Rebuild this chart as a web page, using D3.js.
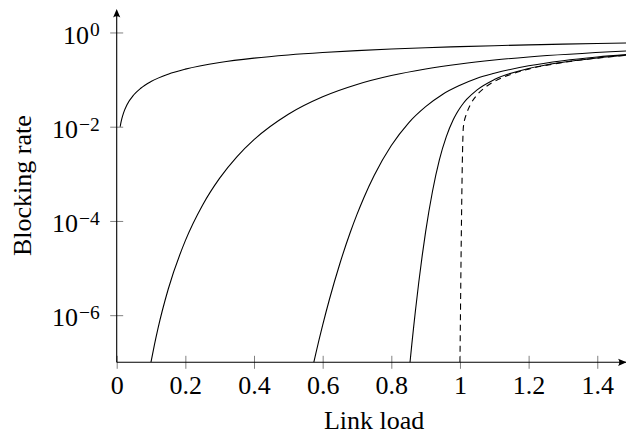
<!DOCTYPE html>
<html><head><meta charset="utf-8">
<script src="https://cdn.jsdelivr.net/npm/d3@7"></script>
<style>body{margin:0;background:#fff}svg{display:block}</style>
</head><body>
<svg id="chart" width="626" height="436"></svg>
<script>
// ---- data ----
const xTicks = [0, 0.2, 0.4, 0.6, 0.8, 1, 1.2, 1.4];
const xTickLabels = ["0", "0.2", "0.4", "0.6", "0.8", "1", "1.2", "1.4"];
const yTicks = [1, 1e-2, 1e-4, 1e-6];
const yTickExponents = ["0", "\u22122", "\u22124", "\u22126"];
const xLabel = "Link load";
const yLabel = "Blocking rate";

const loadC1 = [0.01,0.011,0.012,0.015,0.02,0.03,0.05,0.07,0.1,0.15,0.2,0.3,0.4,0.5,0.6,0.7,0.8,0.9,1.0,1.1,1.2,1.3,1.4,1.5];
const blockC1 = [0.0099,0.01088,0.01186,0.01478,0.01961,0.02913,0.04762,0.06542,0.09091,0.1304,0.1667,0.2308,0.2857,0.3333,0.375,0.4118,0.4444,0.4737,0.5,0.5238,0.5455,0.5652,0.5833,0.6];

const loadC10 = [0.1,0.11,0.12,0.15,0.2,0.25,0.3,0.35,0.4,0.5,0.6,0.7,0.8,0.9,1.0,1.1,1.2,1.5];
const blockC10 = [1.014e-7,2.379e-7,5.139e-7,3.546e-6,3.819e-5,2.157e-4,8.104e-4,2.298e-3,5.308e-3,0.01838,0.04314,0.07874,0.1217,0.1680,0.2146,0.2596,0.3019,0.4103];

const loadC100 = [0.574,0.58,0.6,0.62,0.65,0.68,0.7,0.72,0.75,0.8,0.85,0.9,0.95,1.0,1.05,1.1,1.2,1.3,1.4,1.5];
const blockC100 = [9.84e-8,1.528e-7,6.12e-7,2.203e-6,1.236e-5,5.61e-5,1.377e-4,3.119e-4,9.20e-4,3.98e-3,0.01197,0.0266,0.049,0.0757,0.1072,0.1361,0.1963,0.2518,0.3014,0.3454];

const loadC1000 = [0.854,0.86,0.865,0.87,0.88,0.89,0.9,0.92,0.94,0.96,0.98,0.99,1.0,1.01,1.02,1.05,1.1,1.2,1.3,1.4,1.5];
const blockC1000 = [9.23e-8,2.518e-7,5.58e-7,1.197e-6,5.0e-6,1.832e-5,5.93e-5,4.27e-4,1.982e-3,6.07e-3,0.01383,0.01902,0.0249,0.0314,0.0383,0.0606,0.100,0.1714,0.2338,0.2879,0.335];

const loadLimit = [1.0,1.01,1.02,1.03,1.05,1.07,1.1,1.15,1.2,1.3,1.4,1.5];
const blockLimit = [1e-7,0.0099,0.0196,0.0291,0.0476,0.0654,0.0909,0.1304,0.1667,0.2308,0.2857,0.3333];

const series = [
  {load: loadC1, block: blockC1, dashed: false},
  {load: loadC10, block: blockC10, dashed: false},
  {load: loadC100, block: blockC100, dashed: false},
  {load: loadC1000, block: blockC1000, dashed: false},
  {load: loadLimit, block: blockLimit, dashed: true}
];

// ---- layout ----
const W = 626, H = 436;
const x0 = 116.7, x1 = 631.6;
const yBottom = 362.3, yTop = 8.9;
const FONT = "'Liberation Serif','Times New Roman',serif";

const svg = d3.select("#chart");
const x = d3.scaleLinear().domain([0, 1.5]).range([x0, x1]);
const y = d3.scaleLog().domain([1e-7, Math.pow(10, 0.5)]).range([yBottom, yTop]);

svg.append("defs").append("clipPath").attr("id", "plotclip")
  .append("rect").attr("x", x0).attr("y", 0).attr("width", W - x0).attr("height", yBottom);

const line = d3.line()
  .x(d => x(d[0]))
  .y(d => y(d[1]))
  .curve(d3.curveMonotoneX);

const g = svg.append("g").attr("clip-path", "url(#plotclip)");
series.forEach(s => {
  const pts = s.load.map((v, i) => [v, s.block[i]]);
  g.append("path")
    .attr("d", line(pts))
    .attr("fill", "none")
    .attr("stroke", "#000")
    .attr("stroke-width", 1.1)
    .attr("stroke-dasharray", s.dashed ? "6,4.5" : null);
});

// ---- x axis ----
const xAxis = svg.append("g").attr("transform", `translate(0,${yBottom})`)
  .call(d3.axisBottom(x).tickValues(xTicks).tickFormat((d, i) => xTickLabels[i]).tickSizeOuter(0));
xAxis.select(".domain").remove();
xAxis.selectAll(".tick line").attr("y1", -6.5).attr("y2", 6.5).attr("stroke", "#808080").attr("stroke-width", 1);
xAxis.selectAll(".tick text")
  .attr("y", 32).attr("dy", 0)
  .attr("font-family", FONT).attr("font-size", 26).attr("fill", "#000");

// ---- y axis ----
const yAxis = svg.append("g").attr("transform", `translate(${x0},0)`)
  .call(d3.axisLeft(y).tickValues(yTicks).tickFormat("").tickSizeOuter(0));
yAxis.select(".domain").remove();
yAxis.selectAll(".tick line").attr("x1", -6.5).attr("x2", 6.5).attr("stroke", "#808080").attr("stroke-width", 1);
yAxis.selectAll(".tick").each(function(d, i) {
  const t = d3.select(this).append("text")
    .attr("x", -17).attr("y", 10.8)
    .attr("text-anchor", "end")
    .attr("font-family", FONT).attr("fill", "#000");
  t.append("tspan").attr("font-size", 26).text("10");
  t.append("tspan").attr("font-size", 19.5).attr("dx", 1).attr("dy", -7.5).text(yTickExponents[i]);
});

// ---- axis lines with arrows ----
svg.append("line").attr("x1", x0).attr("x2", x0).attr("y1", yBottom).attr("y2", yTop + 3)
  .attr("stroke", "#000").attr("stroke-width", 1.1);
svg.append("line").attr("x1", x0).attr("x2", x1 - 3).attr("y1", yBottom).attr("y2", yBottom)
  .attr("stroke", "#000").attr("stroke-width", 1.1);
svg.append("path")
  .attr("d", `M${x0},${yTop} L${x0 - 3.6},${yTop + 8.5} Q${x0},${yTop + 6} ${x0 + 3.6},${yTop + 8.5} Z`)
  .attr("fill", "#000");
svg.append("path")
  .attr("d", `M${x1 - 5},${yBottom} L${x1 - 13.5},${yBottom - 3.6} Q${x1 - 11},${yBottom} ${x1 - 13.5},${yBottom + 3.6} Z`)
  .attr("fill", "#000");

// ---- axis labels ----
svg.append("text")
  .attr("x", (x0 + x1) / 2).attr("y", 429)
  .attr("text-anchor", "middle")
  .attr("font-family", FONT).attr("font-size", 26).attr("fill", "#000")
  .text(xLabel);
svg.append("text")
  .attr("transform", `translate(31,${(yBottom + yTop) / 2}) rotate(-90)`)
  .attr("text-anchor", "middle")
  .attr("font-family", FONT).attr("font-size", 26).attr("fill", "#000")
  .text(yLabel);
</script>
</body></html>
